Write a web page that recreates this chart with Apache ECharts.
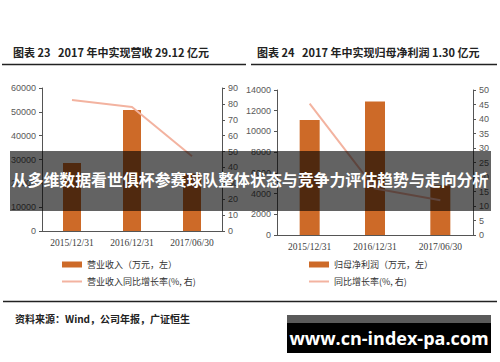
<!DOCTYPE html>
<html><head><meta charset="utf-8">
<script src="https://cdn.jsdelivr.net/npm/echarts@6/dist/echarts.min.js"></script>
<style>html,body{margin:0;padding:0;background:#fff}#c{width:500px;height:362px}</style>
</head><body><div id="c"></div>
<script>
var categories = ['2015/12/31', '2016/12/31', '2017/06/30'];
var revenue = [28500, 50800, 24000];
var revenueGrowth = [82.5, 78, 47];
var profit = [11100, 12900, 4800];
var profitGrowth = [45.3, 16, 12];
var leftTicks = {min: 0, max: 60000, interval: 10000};
var leftRightTicks = {min: 0, max: 90, interval: 10};
var rightTicks = {min: 0, max: 14000, interval: 2000};
var rightRightTicks = {min: 0, max: 50, interval: 5};

var ORANGE = '#cd6a28';
var SALMON = '#f3b3a0';
var AX = '#555';
var serif = '"Liberation Serif", "Noto Sans CJK SC", serif';
var cjk = '"Noto Sans CJK SC", "Liberation Serif", sans-serif';
var axisLbl = {color: '#595959', fontSize: 9, fontFamily: '"Liberation Sans", Arial, sans-serif'};
var LINE_ICON = 'path://M0,0 L20,0 L20,2 L0,2 Z';

function yAx(grid, t, pos) {
  return {type: 'value', gridIndex: grid, position: pos, min: t.min, max: t.max, interval: t.interval,
    splitLine: {show: false},
    axisLine: {show: true, lineStyle: {color: AX, width: 1}},
    axisTick: {show: true, length: 3, lineStyle: {color: AX}},
    axisLabel: Object.assign({margin: 6, formatter: function (v) { return String(v); }}, axisLbl)};
}
function xAx(grid) {
  return {type: 'category', gridIndex: grid, data: categories,
    axisLine: {lineStyle: {color: AX}}, axisTick: {show: false},
    axisLabel: {color: '#404040', fontSize: 9.5, fontFamily: serif, margin: 7}};
}

var chart = echarts.init(document.getElementById('c'), null, {renderer: 'svg'});
chart.setOption({
  animation: false,
  backgroundColor: '#fff',
  title: [
    {text: '图表 23   2017 年中实现营收 29.12 亿元', left: 8, top: 41,
     textStyle: {fontSize: 11, fontWeight: 'bold', color: '#222', fontFamily: cjk}},
    {text: '图表 24   2017 年中实现归母净利润 1.30 亿元', left: 252, top: 41,
     textStyle: {fontSize: 11, fontWeight: 'bold', color: '#222', fontFamily: cjk}},
    {text: '资料来源：Wind，公司年报，广证恒生', left: 10, top: 308,
     textStyle: {fontSize: 10, fontWeight: 'bold', color: '#222', fontFamily: cjk}}
  ],
  grid: [
    {left: 42, top: 88, width: 180, height: 143},
    {left: 277, top: 90, width: 196, height: 145}
  ],
  xAxis: [xAx(0), xAx(1)],
  yAxis: [yAx(0, leftTicks, 'left'), yAx(0, leftRightTicks, 'right'),
          yAx(1, rightTicks, 'left'), yAx(1, rightRightTicks, 'right')],
  legend: [
    {orient: 'vertical', left: 57, top: 255, itemWidth: 20, itemHeight: 6, itemGap: 8,
     textStyle: {fontSize: 9, color: '#333', fontFamily: cjk},
     data: [{name: '营业收入（万元，左）', icon: 'rect'}, {name: '营业收入同比增长率(%, 右)', icon: LINE_ICON}]},
    {orient: 'vertical', left: 304, top: 255, itemWidth: 20, itemHeight: 6, itemGap: 8,
     textStyle: {fontSize: 9, color: '#333', fontFamily: cjk},
     data: [{name: '归母净利润（万元，左）', icon: 'rect'}, {name: '同比增长率(%, 右)', icon: LINE_ICON}]}
  ],
  series: [
    {name: '营业收入（万元，左）', type: 'bar', xAxisIndex: 0, yAxisIndex: 0, data: revenue,
     barWidth: 18, itemStyle: {color: ORANGE}},
    {name: '营业收入同比增长率(%, 右)', type: 'line', xAxisIndex: 0, yAxisIndex: 1, data: revenueGrowth,
     symbol: 'none', lineStyle: {color: SALMON, width: 2}, itemStyle: {color: SALMON}},
    {name: '归母净利润（万元，左）', type: 'bar', xAxisIndex: 1, yAxisIndex: 2, data: profit,
     barWidth: 20, itemStyle: {color: ORANGE}},
    {name: '同比增长率(%, 右)', type: 'line', xAxisIndex: 1, yAxisIndex: 3, data: profitGrowth,
     symbol: 'none', lineStyle: {color: SALMON, width: 2}, itemStyle: {color: SALMON}}
  ],
  graphic: [
    {type: 'line', shape: {x1: 2, y1: 64.5, x2: 246, y2: 64.5}, style: {stroke: '#222', lineWidth: 1.5}},
    {type: 'line', shape: {x1: 251, y1: 64.5, x2: 497, y2: 64.5}, style: {stroke: '#222', lineWidth: 1.5}},
    {type: 'line', shape: {x1: 3, y1: 301.5, x2: 497, y2: 301.5}, style: {stroke: '#222', lineWidth: 1.5}},
    {type: 'rect', z: 100, shape: {x: 10, y: 151, width: 481, height: 60}, style: {fill: 'rgba(0,0,0,0.61)'}},
    {type: 'text', z: 101, left: 'center', top: 172,
     style: {text: '从多维数据看世俱杯参赛球队整体状态与竞争力评估趋势与走向分析', fill: '#fff',
             font: 'bold 15.9px "Noto Sans CJK SC", sans-serif'}},
    {type: 'rect', z: 100, shape: {x: 287, y: 315, width: 204, height: 38}, style: {fill: '#000'}},
    {type: 'rect', z: 100, shape: {x: 287, y: 315, width: 204, height: 8}, style: {fill: '#5a5a5a'}},
    {type: 'text', z: 101, x: 389, y: 338,
     style: {text: 'www.cn-index-pa.com', fill: '#fff', align: 'center', verticalAlign: 'middle',
             font: 'bold 18px "Open Sans", sans-serif'}}
  ]
});
</script></body></html>
